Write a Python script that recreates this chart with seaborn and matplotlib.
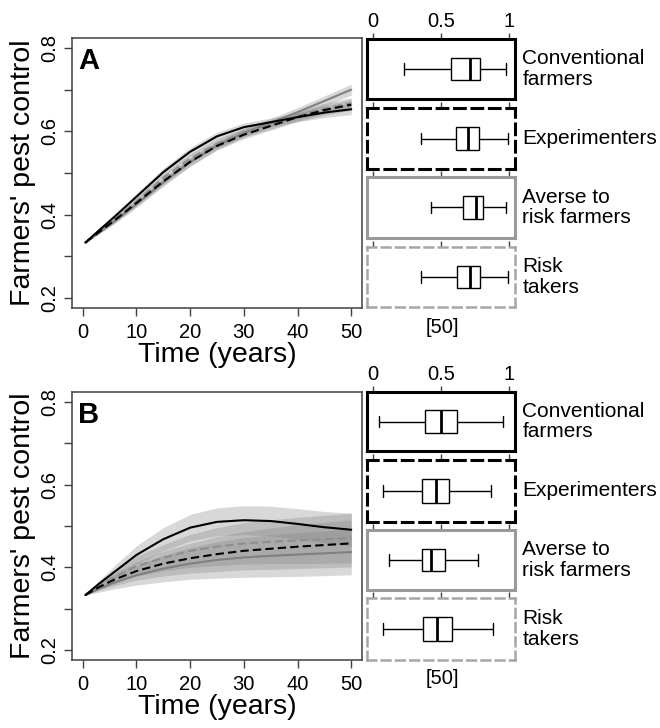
import numpy as np
import pandas as pd
import matplotlib
matplotlib.use("Agg")
import matplotlib.pyplot as plt
import seaborn as sns

sns.set_style("white")
plt.rcParams["font.family"] = ["Liberation Sans", "DejaVu Sans"]
plt.rcParams["text.color"] = "black"
plt.rcParams["xtick.color"] = "black"
plt.rcParams["ytick.color"] = "black"
plt.rcParams["axes.labelcolor"] = "black"

# ---------------- data ----------------
years = [0.5, 3, 6, 10, 15, 20, 25, 30, 35, 40, 45, 50]
groups = ["Conventional\nfarmers", "Experimenters", "Averse to\nrisk farmers", "Risk\ntakers"]

# Panel A: mean pest control through time
a_conv = [0.333, 0.362, 0.396, 0.443, 0.502, 0.551, 0.588, 0.610, 0.622, 0.634, 0.645, 0.653]
a_exp = [0.333, 0.358, 0.387, 0.428, 0.480, 0.527, 0.565, 0.592, 0.613, 0.634, 0.651, 0.664]
a_averse = [0.333, 0.357, 0.385, 0.425, 0.477, 0.526, 0.566, 0.596, 0.621, 0.646, 0.673, 0.700]
a_risk = [0.333, 0.359, 0.389, 0.432, 0.488, 0.535, 0.571, 0.597, 0.615, 0.637, 0.655, 0.668]
# Panel A: half-width of the grey bands
a_spread = [0.0, 0.004, 0.006, 0.008, 0.009, 0.010, 0.010, 0.010, 0.010, 0.011, 0.012, 0.013]

# Panel B: mean pest control through time
b_conv = [0.333, 0.360, 0.390, 0.430, 0.468, 0.496, 0.510, 0.514, 0.512, 0.505, 0.497, 0.491]
b_exp = [0.333, 0.352, 0.371, 0.391, 0.409, 0.422, 0.432, 0.440, 0.445, 0.450, 0.454, 0.458]
b_averse = [0.333, 0.348, 0.364, 0.381, 0.397, 0.409, 0.418, 0.424, 0.428, 0.431, 0.434, 0.437]
b_risk = [0.333, 0.355, 0.377, 0.403, 0.423, 0.440, 0.450, 0.458, 0.462, 0.465, 0.468, 0.471]
# Panel B: half-widths of the grey bands
b_conv_sd = [0.0, 0.008, 0.015, 0.022, 0.028, 0.032, 0.034, 0.035, 0.036, 0.037, 0.038, 0.040]
b_exp_sd = [0.0, 0.008, 0.015, 0.022, 0.030, 0.036, 0.042, 0.046, 0.050, 0.053, 0.055, 0.057]
b_averse_sd = [0.0, 0.008, 0.016, 0.024, 0.032, 0.038, 0.044, 0.048, 0.051, 0.053, 0.054, 0.055]
b_risk_sd = [0.0, 0.008, 0.016, 0.024, 0.032, 0.040, 0.046, 0.050, 0.053, 0.056, 0.058, 0.060]

# Box plots at year 50: [min, Q1, median, Q3, max]
a_box_conv = [0.23, 0.57, 0.71, 0.79, 0.98]
a_box_exp = [0.35, 0.61, 0.70, 0.78, 0.99]
a_box_averse = [0.43, 0.66, 0.76, 0.81, 0.98]
a_box_risk = [0.35, 0.62, 0.71, 0.79, 0.99]
b_box_conv = [0.04, 0.38, 0.50, 0.62, 0.96]
b_box_exp = [0.07, 0.36, 0.46, 0.56, 0.87]
b_box_averse = [0.12, 0.36, 0.43, 0.53, 0.77]
b_box_risk = [0.07, 0.37, 0.47, 0.58, 0.88]

x_ticks = [0, 10, 20, 30, 40, 50]
y_ticks = [0.2, 0.3, 0.4, 0.5, 0.6, 0.7, 0.8]
y_ticklabels = ["0.2", "", "0.4", "", "0.6", "", "0.8"]
box_ticks = [0, 0.5, 1]
box_ticklabels = ["0", "0.5", "1"]

# ---------------- styles ----------------
line_styles = [
    dict(color="black", ls="-", lw=1.5),
    dict(color="black", ls=(0, (4, 2)), lw=1.5),
    dict(color="#808080", ls="-", lw=1.5),
    dict(color="#8e8e8e", ls=(0, (4, 2)), lw=1.5),
]
frame_styles = [
    dict(color="black", ls="-", lw=2.2),
    dict(color="black", ls=(0, (3.5, 2.2)), lw=2.2),
    dict(color="#9a9a9a", ls="-", lw=2.2),
    dict(color="#a6a6a6", ls=(0, (3.5, 2.2)), lw=1.8),
]
AX_COL = "#404040"
W, H = 660, 728


def fig_rect(x0, y0, x1, y1):
    return [x0 / W, 1 - y1 / H, (x1 - x0) / W, (y1 - y0) / H]


fig = plt.figure(figsize=(6.6, 7.28), dpi=100)


def line_panel(rect, letter, means, spreads):
    ax = fig.add_axes(rect)
    for m, s in zip(means, spreads):
        lo = np.array(m) - np.array(s)
        hi = np.array(m) + np.array(s)
        ax.fill_between(years, lo, hi, color="#808080", alpha=0.3, lw=0, zorder=1)
    order = [2, 3, 1, 0]
    for k in order:
        m, st = means[k], line_styles[k]
        df = pd.DataFrame({"t": years, "v": m})
        sns.lineplot(data=df, x="t", y="v", ax=ax, color=st["color"],
                     linestyle=st["ls"], linewidth=st["lw"], zorder=3)
    ax.set_xlim(-2, 52)
    ax.set_ylim(0.176, 0.824)
    ax.set_xticks(x_ticks)
    ax.set_xticklabels([str(v) for v in x_ticks])
    ax.set_yticks(y_ticks)
    ax.set_yticklabels(y_ticklabels, rotation=90, va="center")
    ax.tick_params(axis="both", direction="out", length=6, width=1,
                   color=AX_COL, labelsize=14.5, left=True, bottom=True)
    ax.tick_params(axis="x", pad=5)
    ax.tick_params(axis="y", pad=3)
    for sp in ax.spines.values():
        sp.set_color(AX_COL)
        sp.set_linewidth(1.1)
    ax.set_xlabel("Time (years)", fontsize=20.5, labelpad=0)
    ax.set_ylabel("Farmers' pest control", fontsize=20.5, labelpad=3)
    ax.text(0.02, 0.965, letter, transform=ax.transAxes, ha="left", va="top",
            fontsize=21, fontweight="bold",
            family=["Liberation Sans Narrow", "Liberation Sans"])
    return ax


def box_panel(x0, x1, rows, boxes, label_y):
    for i, ((y0, y1), vals, fs, lab) in enumerate(zip(rows, boxes, frame_styles, groups)):
        ax = fig.add_axes(fig_rect(x0, y0, x1, y1))
        sns.boxplot(x=vals, ax=ax, orient="h", whis=(0, 100), width=0.38,
                    color="white", linecolor="black", linewidth=1.0,
                    medianprops=dict(linewidth=2.0, color="black"))
        ax.set_xlim(-0.045, 1.045)
        ax.set_ylim(0.5, -0.5)
        ax.set_yticks([])
        ax.set_ylabel("")
        ax.set_xlabel("")
        ax.xaxis.set_ticks_position("top")
        ax.set_xticks(box_ticks)
        if i == 0:
            ax.set_xticklabels(box_ticklabels)
        else:
            ax.set_xticklabels([])
        ax.tick_params(axis="x", direction="out", length=4, width=1, color=AX_COL,
                       labelsize=14.5, pad=2, top=True, bottom=False,
                       labeltop=True, labelbottom=False)
        for sp in ax.spines.values():
            sp.set_color(fs["color"])
            sp.set_linestyle(fs["ls"])
            sp.set_linewidth(fs["lw"])
        ax.text(1.05, 0.5, lab, transform=ax.transAxes, ha="left", va="center",
                fontsize=15, linespacing=1.1)
        if i == len(rows) - 1:
            fig.text(442 / W, 1 - label_y / H, "[50]", ha="center", va="center",
                     fontsize=14.5)


line_panel(fig_rect(72, 38, 362, 308), "A",
           [a_conv, a_exp, a_averse, a_risk], [a_spread] * 4)
line_panel(fig_rect(72, 392, 362, 660), "B",
           [b_conv, b_exp, b_averse, b_risk],
           [b_conv_sd, b_exp_sd, b_averse_sd, b_risk_sd])

box_panel(367, 515, [(39, 99), (108, 169), (177, 238), (247, 307)],
          [a_box_conv, a_box_exp, a_box_averse, a_box_risk], 328)
box_panel(367, 515, [(392, 451), (460, 522), (530, 590), (598, 660)],
          [b_box_conv, b_box_exp, b_box_averse, b_box_risk], 678)

fig.savefig("out.png", dpi=100)
